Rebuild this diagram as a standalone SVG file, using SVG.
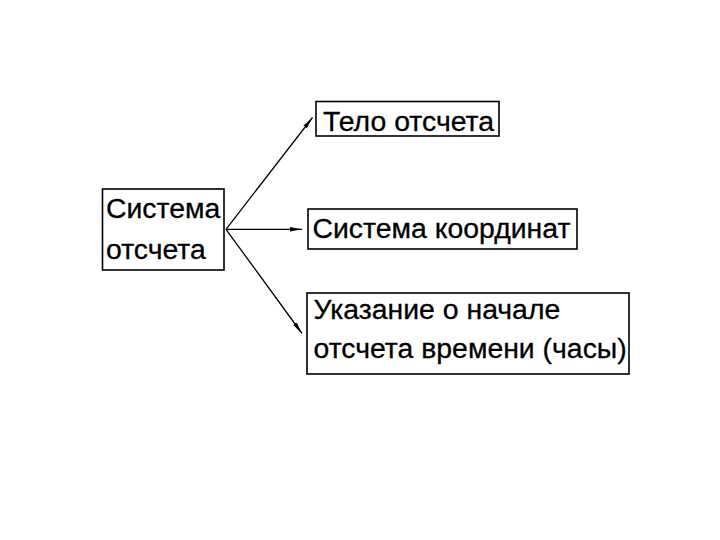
<svg xmlns="http://www.w3.org/2000/svg" width="720" height="540" viewBox="0 0 720 540">
<defs>
<marker id="ah" viewBox="0 0 12 6" refX="12" refY="3" markerWidth="12" markerHeight="6" markerUnits="userSpaceOnUse" orient="auto">
<path d="M0,0.8 L12,3 L0,5.2 Z" fill="#000"/>
</marker>
<style>
.box{fill:#fff;stroke:#000;stroke-width:1.6}
.t{font-family:"Liberation Sans",Arial,sans-serif;font-size:28.4px;fill:#000;stroke:#000;stroke-width:0.3}
.c{fill:none;stroke:#000;stroke-width:1.3;marker-end:url(#ah)}
</style>
</defs>
<rect width="720" height="540" fill="#fff"/>
<g id="n1">
<rect class="box" x="102.5" y="189" width="121.5" height="81"/>
<text class="t" x="106" y="217.5">Система</text>
<text class="t" x="106" y="259">отсчета</text>
</g>
<g id="n2">
<rect class="box" x="316" y="101.5" width="183" height="34.5"/>
<text class="t" x="323" y="130.5">Тело отсчета</text>
</g>
<g id="n3">
<rect class="box" x="308" y="209" width="269" height="40"/>
<text class="t" x="312.5" y="237.5">Система координат</text>
</g>
<g id="n4">
<rect class="box" x="307" y="293" width="322" height="81"/>
<text class="t" x="313.5" y="319">Указание о начале</text>
<text class="t" x="313.5" y="358">отсчета времени (часы)</text>
</g>
<g id="connectors">
<path class="c" d="M226,229.3 L312.5,117.5"/>
<path class="c" d="M226,229.3 L302,229.3"/>
<path class="c" d="M226,229.3 L302,333.5"/>
</g>
</svg>
